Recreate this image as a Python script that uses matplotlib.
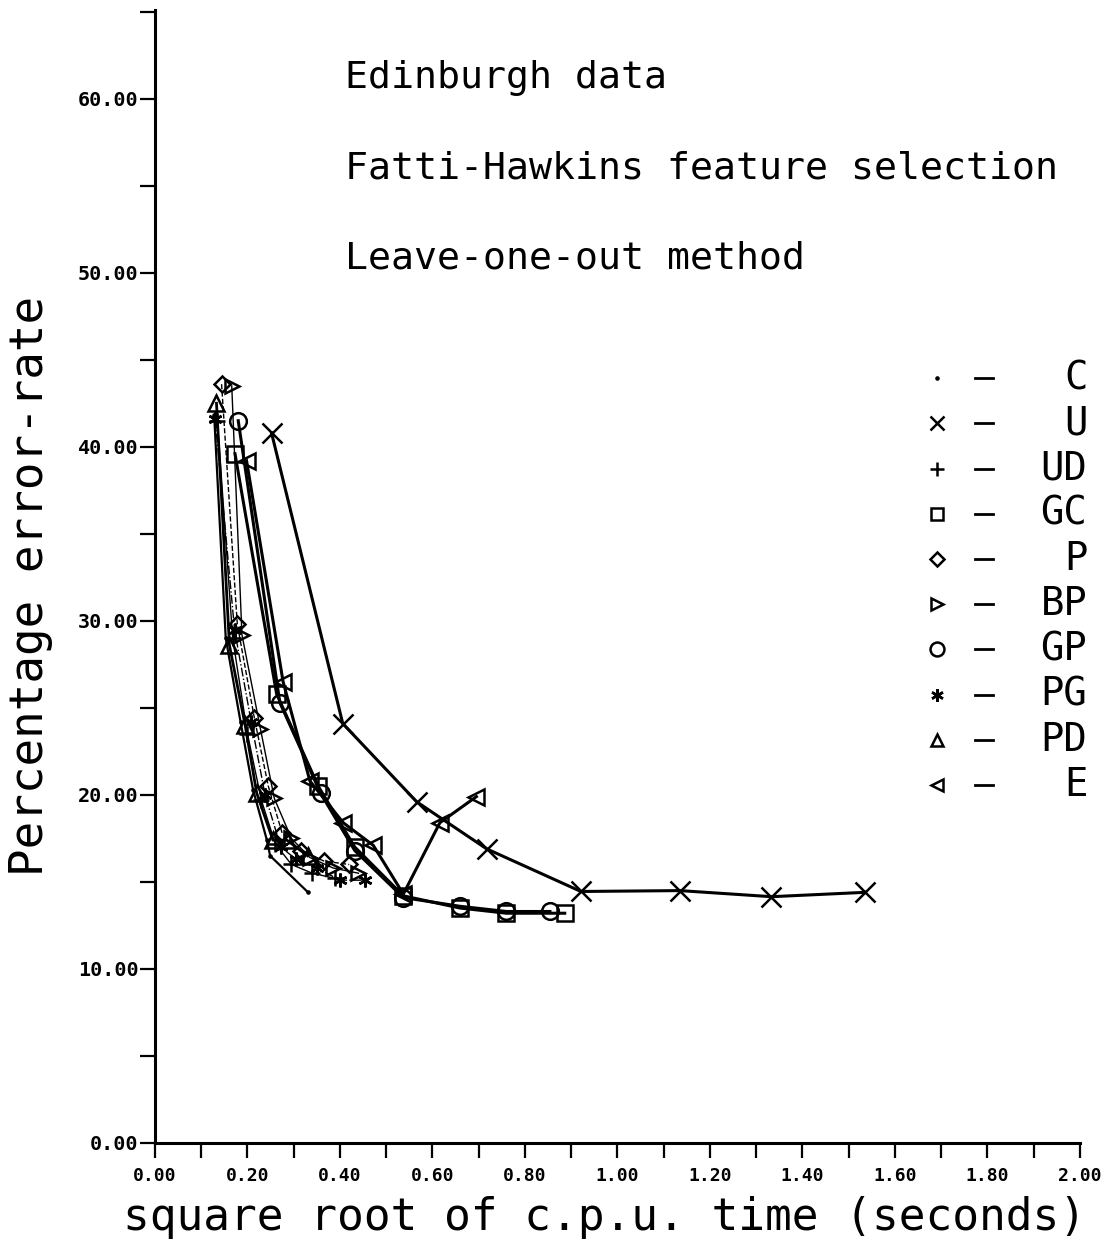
import matplotlib
matplotlib.use("Agg")
import matplotlib.pyplot as plt
from matplotlib.ticker import MultipleLocator, FormatStrFormatter

# ---- data ----
C_x = [0.128, 0.153, 0.185, 0.212, 0.242, 0.249, 0.331]
C_y = [41.8, 29.0, 24.2, 20.3, 17.4, 16.5, 14.4]

U_x = [0.252, 0.406, 0.566, 0.717, 0.921, 1.135, 1.333, 1.535]
U_y = [40.8, 24.1, 19.6, 16.9, 14.45, 14.5, 14.15, 14.4]

UD_x = [0.135, 0.168, 0.200, 0.230, 0.260, 0.295, 0.340, 0.390]
UD_y = [41.5, 29.0, 23.5, 19.7, 17.2, 16.0, 15.5, 15.2]

GC_x = [0.173, 0.263, 0.353, 0.432, 0.537, 0.659, 0.760, 0.886]
GC_y = [39.6, 25.8, 20.5, 17.0, 14.2, 13.5, 13.2, 13.2]

P_x = [0.144, 0.178, 0.215, 0.245, 0.275, 0.315, 0.365, 0.420]
P_y = [43.6, 29.8, 24.4, 20.5, 17.8, 16.8, 16.2, 16.0]

BP_x = [0.166, 0.188, 0.228, 0.258, 0.295, 0.335, 0.385, 0.440]
BP_y = [43.5, 29.2, 23.8, 19.8, 17.5, 16.4, 15.8, 15.5]

GP_x = [0.180, 0.270, 0.358, 0.432, 0.537, 0.659, 0.760, 0.854]
GP_y = [41.5, 25.3, 20.1, 16.8, 14.1, 13.6, 13.3, 13.3]

PG_x = [0.130, 0.172, 0.208, 0.238, 0.272, 0.305, 0.350, 0.400, 0.455]
PG_y = [41.6, 29.5, 24.2, 20.0, 17.0, 16.3, 15.8, 15.1, 15.1]

PD_x = [0.133, 0.161, 0.195, 0.220, 0.255, 0.285, 0.330]
PD_y = [42.5, 28.6, 24.0, 20.1, 17.4, 17.4, 16.5]

E_x = [0.198, 0.277, 0.335, 0.407, 0.472, 0.537, 0.616, 0.695]
E_y = [39.2, 26.5, 20.8, 18.4, 17.1, 14.3, 18.4, 19.9]

legend_labels = ["C", "U", "UD", "GC", "P", "BP", "GP", "PG", "PD", "E"]
title_lines = ["Edinburgh data", "Fatti-Hawkins feature selection", "Leave-one-out method"]

MONO = "DejaVu Sans Mono"

# ---- style per series ----
series = [
    (C_x, C_y, ".", 3, "-", 1.6),
    (U_x, U_y, "x", 14, "-", 2.2),
    (UD_x, UD_y, "+", 11, "-", 1.0),
    (GC_x, GC_y, "s", 11, "-", 2.2),
    (P_x, P_y, "D", 8, "--", 1.0),
    (BP_x, BP_y, ">", 10, "-", 1.0),
    (GP_x, GP_y, "o", 12, "-", 2.2),
    (PG_x, PG_y, (6, 2, 0), 10, "-.", 1.0),
    (PD_x, PD_y, "^", 11, "-", 2.0),
    (E_x, E_y, "<", 12, "-", 2.2),
]

fig = plt.figure(figsize=(11.19, 12.46), dpi=100)
ax = fig.add_axes([0.1385, 0.0827, 0.8266, 0.9093])

for xs, ys, m, ms, ls, lw in series:
    ax.plot(xs, ys, color="black", linestyle=ls, linewidth=lw,
            marker=m, markersize=ms, markerfacecolor="none",
            markeredgecolor="black", markeredgewidth=1.8)

ax.set_xlim(0, 2.0)
ax.set_ylim(0, 65.1)
for s in ("top", "right"):
    ax.spines[s].set_visible(False)
ax.spines["left"].set_linewidth(2.2)
ax.spines["bottom"].set_linewidth(2.2)

ax.xaxis.set_major_locator(MultipleLocator(0.2))
ax.xaxis.set_minor_locator(MultipleLocator(0.1))
ax.yaxis.set_major_locator(MultipleLocator(10))
ax.yaxis.set_minor_locator(MultipleLocator(5))
ax.xaxis.set_major_formatter(FormatStrFormatter("%.2f"))
ax.yaxis.set_major_formatter(FormatStrFormatter("%.2f"))
ax.tick_params(axis="both", which="both", direction="out", length=11,
               width=1.6, color="black")
ax.tick_params(axis="x", which="major", pad=6)
ax.tick_params(axis="y", which="major", pad=1)
for lab in ax.get_xticklabels():
    lab.set_fontsize(13)
    lab.set_fontweight("bold")
    lab.set_family(MONO)
for lab in ax.get_yticklabels():
    lab.set_fontsize(14.5)
    lab.set_fontweight("bold")
    lab.set_family(MONO)

# title lines
for i, t in enumerate(title_lines):
    ax.text(0.205, 0.94 - i * 0.0795, t, transform=ax.transAxes,
            fontsize=27.5, ha="left", va="center", family=MONO)

# legend (manual, plotter style)
leg_markers = [".", "x", "+", "s", "D", ">", "o", (6, 2, 0), "^", "<"]
leg_sizes = [3, 10, 10, 9, 7, 8, 10, 9, 9, 9]
for i, (lab, m, ms) in enumerate(zip(legend_labels, leg_markers, leg_sizes)):
    yy = 0.675 - i * 0.0399
    ax.plot([0.845], [yy], transform=ax.transAxes, marker=m, markersize=ms,
            markerfacecolor="none", markeredgecolor="black",
            markeredgewidth=1.8, color="black", clip_on=False)
    ax.plot([0.886, 0.906], [yy, yy], transform=ax.transAxes, color="black",
            linewidth=2, clip_on=False)
    ax.text(1.008, yy, lab, transform=ax.transAxes, fontsize=28,
            ha="right", va="center", family=MONO)

fig.text(0.027, 0.53, "Percentage error-rate", rotation=90, fontsize=33,
         ha="center", va="center", family=MONO)
fig.text(0.54, 0.0225, "square root of c.p.u. time (seconds)", fontsize=32,
         ha="center", va="center", family=MONO)

fig.savefig("out.png", dpi=100)
